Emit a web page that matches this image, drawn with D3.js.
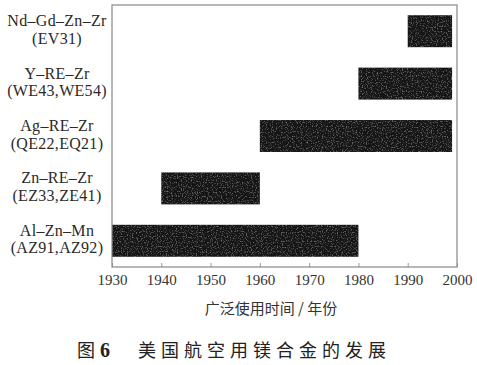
<!DOCTYPE html>
<html>
<head>
<meta charset="utf-8">
<script src="https://cdn.jsdelivr.net/npm/d3@7"></script>
<style>
  body { margin: 0; background: #fff; }
  svg { display: block; }
</style>
</head>
<body>
<script>
// alloy systems, top to bottom
var alloys = ["Nd–Gd–Zn–Zr", "Y–RE–Zr", "Ag–RE–Zr", "Zn–RE–Zr", "Al–Zn–Mn"];
var grades = ["(EV31)", "(WE43,WE54)", "(QE22,EQ21)", "(EZ33,ZE41)", "(AZ91,AZ92)"];
// years of wide use
var startYear = [1990, 1980, 1960, 1940, 1930];
var endYear = [1999, 1999, 1999, 1960, 1980];
var yearTicks = [1930, 1940, 1950, 1960, 1970, 1980, 1990, 2000];

var w = 477, h = 365;
const margin = {top: 5, right: 20, bottom: 98, left: 112};

var svg = d3.select("body").append("svg")
    .attr("width", w)
    .attr("height", h);

// grainy fill like the scanned print
var defs = svg.append("defs");
var f = defs.append("filter").attr("id", "grain")
    .attr("x", 0).attr("y", 0).attr("width", 1).attr("height", 1);
f.append("feTurbulence").attr("type", "fractalNoise")
    .attr("baseFrequency", 0.8).attr("numOctaves", 1).attr("seed", 3)
    .attr("result", "noise");
f.append("feColorMatrix").attr("in", "noise").attr("type", "matrix")
    .attr("values", "0 0 0 0 0.45  0 0 0 0 0.45  0 0 0 0 0.45  0 0 0 1.3 -0.7")
    .attr("result", "dots");
f.append("feComposite").attr("in", "dots").attr("in2", "SourceGraphic")
    .attr("operator", "in").attr("result", "dots2");
f.append("feMerge").selectAll("feMergeNode")
    .data(["SourceGraphic", "dots2"]).enter()
    .append("feMergeNode").attr("in", d => d);

var x = d3.scaleLinear()
    .domain([1930, 2000])
    .range([margin.left, w - margin.right]);

var y = d3.scaleBand()
    .domain(alloys)
    .range([margin.top, h - margin.bottom])
    .paddingInner(0.39)
    .paddingOuter(0.195);

// bars
svg.selectAll(".bar")
    .data(alloys).enter()
    .append("rect")
    .attr("class", "bar")
    .attr("x", (d, i) => x(startYear[i]))
    .attr("y", d => y(d))
    .attr("width", (d, i) => x(endYear[i]) - x(startYear[i]))
    .attr("height", y.bandwidth())
    .attr("fill", "#161616")
    .attr("filter", "url(#grain)");

// bottom axis, ticks pointing inward
var xAxis = svg.append("g")
    .attr("transform", "translate(0," + (h - margin.bottom) + ")")
    .call(d3.axisBottom(x).tickValues(yearTicks).tickFormat(d3.format("d"))
        .tickSize(-4).tickPadding(6));
xAxis.select(".domain").remove();
xAxis.selectAll("line").attr("stroke", "#999");
xAxis.selectAll("text")
    .attr("font-family", "'Liberation Serif', 'Times New Roman', serif")
    .attr("font-size", 15)
    .attr("fill", "#333")
    .attr("dy", "0.8em");

// frame
svg.append("rect")
    .attr("x", x(1930)).attr("y", margin.top)
    .attr("width", x(2000) - x(1930))
    .attr("height", h - margin.bottom - margin.top)
    .attr("fill", "none")
    .attr("stroke", "#888")
    .attr("stroke-width", 1.2);

// category labels, two lines each
var lab = svg.selectAll(".lab")
    .data(alloys).enter()
    .append("text")
    .attr("class", "lab")
    .attr("text-anchor", "middle")
    .attr("font-family", "'Liberation Serif', 'Times New Roman', serif")
    .attr("font-size", 16)
    .attr("letter-spacing", 0.3)
    .attr("fill", "#2a2a2a");
lab.append("tspan")
    .attr("x", 57)
    .attr("y", d => y(d) + y.bandwidth() / 2 - 5)
    .text(d => d);
lab.append("tspan")
    .attr("x", 57)
    .attr("y", d => y(d) + y.bandwidth() / 2 + 12.5)
    .text((d, i) => grades[i]);

// axis title
svg.append("text")
    .attr("x", 271)
    .attr("y", 314)
    .attr("text-anchor", "middle")
    .attr("font-family", "'Noto Sans CJK SC', sans-serif")
    .attr("font-size", 15)
    .attr("fill", "#333")
    .text("广泛使用时间 / 年份");

// caption
var cap = svg.append("text")
    .attr("y", 357)
    .attr("font-family", "'Noto Sans CJK SC', sans-serif")
    .attr("font-size", 18)
    .attr("fill", "#222");
cap.append("tspan").attr("x", 77).text("图");
cap.append("tspan").attr("x", 100)
    .attr("font-family", "'Liberation Serif', serif")
    .attr("font-weight", "bold")
    .attr("font-size", 20)
    .text("6");
cap.append("tspan").attr("x", 138)
    .attr("letter-spacing", 5)
    .text("美国航空用镁合金的发展");
</script>
</body>
</html>
